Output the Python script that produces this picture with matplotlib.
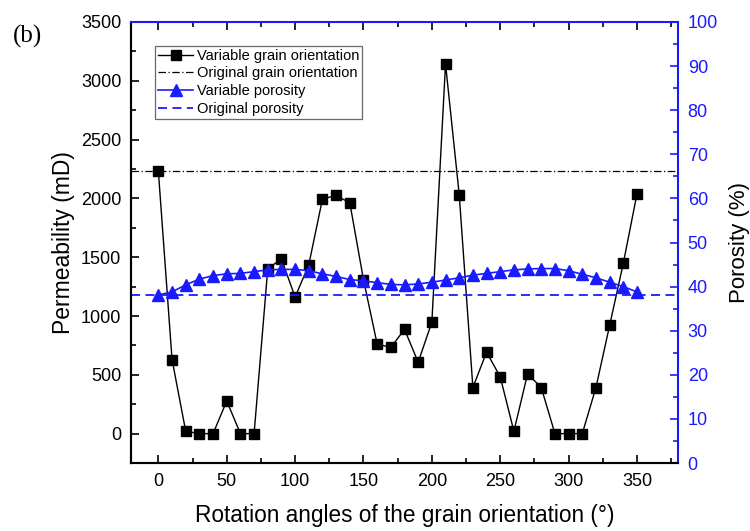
import matplotlib
matplotlib.use("Agg")
import matplotlib.pyplot as plt
from matplotlib.ticker import MultipleLocator
import numpy as np

plt.rcParams['font.family'] = ['Liberation Sans', 'DejaVu Sans']

# rotation angles (deg)
angles = np.arange(0, 360, 10)

# permeability (mD) for the variable grain orientation
perm = [2230, 630, 20, 0, 0, 278, 0, 0, 1403, 1485,
        1161, 1436, 1995, 2025, 1962, 1309, 761, 733, 886, 607,
        948, 3143, 2033, 392, 693, 483, 20, 508, 392, 0,
        0, 0, 392, 920, 1448, 2038]

# porosity (%) for the variable porosity case
poro = [38.1, 38.8, 40.4, 41.7, 42.5, 42.9, 43.0, 43.4, 43.8, 43.9,
        43.9, 43.6, 42.9, 42.3, 41.6, 41.3, 40.9, 40.5, 40.4, 40.6,
        41.0, 41.5, 42.0, 42.6, 43.0, 43.4, 43.8, 44.0, 44.1, 44.1,
        43.6, 42.8, 42.0, 41.0, 40.0, 38.8]

orig_perm = 2230
orig_poro = 38.0

blue = "#1a1aff"

fig = plt.figure(figsize=(7.5, 5.31), dpi=100)
ax = fig.add_axes([0.1747, 0.128, 0.7293, 0.8306])
ax2 = ax.twinx()

l1, = ax.plot(angles, perm, color="black", lw=1, marker="s", ms=7,
              label="Variable grain orientation")
l2 = ax.axhline(orig_perm, color="black", lw=0.9, ls=(0, (6, 2, 1, 2)),
                label="Original grain orientation")
l3, = ax2.plot(angles, poro, color=blue, lw=1.2, marker="^", ms=8,
               label="Variable porosity")
l4 = ax2.axhline(orig_poro, color=blue, lw=1.3, ls=(0, (5, 3)),
                 label="Original porosity")

ax.set_xlim(-20, 380)
ax.set_ylim(-250, 3500)
ax2.set_ylim(0, 100)

ax.xaxis.set_major_locator(MultipleLocator(50))
ax.xaxis.set_minor_locator(MultipleLocator(25))
ax.yaxis.set_major_locator(MultipleLocator(500))
ax.yaxis.set_minor_locator(MultipleLocator(250))
ax2.yaxis.set_major_locator(MultipleLocator(10))
ax2.yaxis.set_minor_locator(MultipleLocator(5))

ax.tick_params(which="both", direction="in", labelsize=13, width=1.2,
               top=True, colors="black")
ax.tick_params(which="major", length=6)
ax.tick_params(which="minor", length=3.5)
ax.tick_params(axis="x", which="major", pad=7)
ax.tick_params(axis="y", which="major", pad=7)
# top ticks in blue like the right axis
for t in ax.xaxis.get_ticklines(minor=False)[1::2] + ax.xaxis.get_ticklines(minor=True)[1::2]:
    t.set_color(blue)
ax2.tick_params(which="both", direction="in", labelsize=13, width=1.2,
                colors=blue)
ax2.tick_params(which="major", length=6, pad=7)
ax2.tick_params(which="minor", length=3.5)

for s in ["left", "bottom"]:
    ax.spines[s].set_linewidth(1.5)
    ax2.spines[s].set_linewidth(1.5)
ax2.spines["right"].set_color(blue)
ax2.spines["right"].set_linewidth(1.5)
ax2.spines["top"].set_color(blue)
ax2.spines["top"].set_linewidth(1.5)
ax.spines["top"].set_visible(False)
ax.spines["right"].set_visible(False)

ax.set_xlabel("Rotation angles of the grain orientation (°)", fontsize=16.3, labelpad=10)
ax.set_ylabel("Permeability (mD)", fontsize=16.5, labelpad=4)
ax2.set_ylabel("Porosity (%)", fontsize=16, labelpad=8, color="black")

leg = ax2.legend(handles=[l1, l2, l3, l4], loc="upper left",
                 bbox_to_anchor=(0.044, 0.946), fontsize=10.5,
                 frameon=True, fancybox=False, handlelength=2.4,
                 borderpad=0.2, labelspacing=0.25, handletextpad=0.25,
                 borderaxespad=0, markerscale=1.0)
leg.get_frame().set_edgecolor("#444444")
leg.get_frame().set_linewidth(0.9)

fig.text(0.017, 0.92, "(b)", fontsize=18, family="Liberation Serif")

fig.savefig("out.png", dpi=100)
